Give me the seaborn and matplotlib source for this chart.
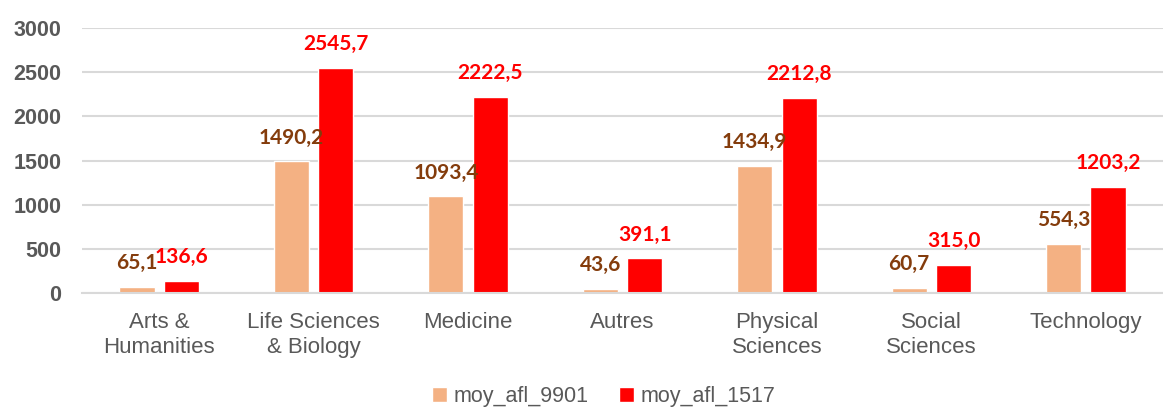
import matplotlib
matplotlib.use("Agg")
import matplotlib.pyplot as plt
import seaborn as sns
import pandas as pd

categories = ["Arts &\nHumanities", "Life Sciences\n& Biology", "Medicine", "Autres",
              "Physical\nSciences", "Social\nSciences", "Technology"]
series_names = ["moy_afl_9901", "moy_afl_1517"]
values_9901 = [65.1, 1490.2, 1093.4, 43.6, 1434.9, 60.7, 554.3]
values_1517 = [136.6, 2545.7, 2222.5, 391.1, 2212.8, 315.0, 1203.2]
yticks = [0, 500, 1000, 1500, 2000, 2500, 3000]

colors = ["#F4B183", "#FF0000"]
label_colors = ["#843C0C", "#FF0000"]

df = pd.DataFrame({
    "cat": categories * 2,
    "series": [series_names[0]] * len(categories) + [series_names[1]] * len(categories),
    "val": values_9901 + values_1517,
})

sns.set_theme(style="white")
plt.rcParams["font.family"] = ["Liberation Sans", "DejaVu Sans"]

fig = plt.figure(figsize=(11.63, 4.07), dpi=100)
ax = fig.add_axes([0.0705, 0.280, 0.9295, 0.651])

sns.barplot(data=df, x="cat", y="val", hue="series", palette=colors,
            width=0.576, gap=0.21, ax=ax, legend=True, saturation=1)

ax.set_ylim(0, 3000)
ax.set_xlim(-0.5, len(categories) - 0.5)
ax.set_yticks(yticks)
ax.set_yticklabels([str(t) for t in yticks], fontsize=15.5, color="#595959", fontweight="bold")
ax.tick_params(axis="y", length=0, pad=15)
ax.set_xticks(range(len(categories)))
ax.set_xticklabels(categories, fontsize=16, color="#595959", linespacing=1.2)
ax.tick_params(axis="x", length=0, pad=14)
ax.set_xlabel("")
ax.set_ylabel("")
ax.grid(axis="y", color="#D9D9D9", linewidth=1.5)
ax.set_axisbelow(True)
for s in ["top", "right", "left"]:
    ax.spines[s].set_visible(False)
ax.spines["bottom"].set_color("#D9D9D9")
ax.spines["bottom"].set_linewidth(1.5)

for cont, lc in zip(ax.containers, label_colors):
    labels = [f"{v:.1f}".replace(".", ",") for v in cont.datavalues]
    ax.bar_label(cont, labels=labels, padding=10, color=lc, fontsize=15,
                 fontweight="bold", family=["Lato", "DejaVu Sans"])

leg = ax.get_legend()
handles = leg.legend_handles
leg.remove()
fig.legend(handles, series_names, loc="center", bbox_to_anchor=(0.519, 0.025),
           ncol=2, frameon=False, fontsize=15.5, labelcolor="#595959",
           handlelength=0.7, handleheight=0.7, handletextpad=0.3, columnspacing=1.4)

fig.savefig("out.png", dpi=100)
